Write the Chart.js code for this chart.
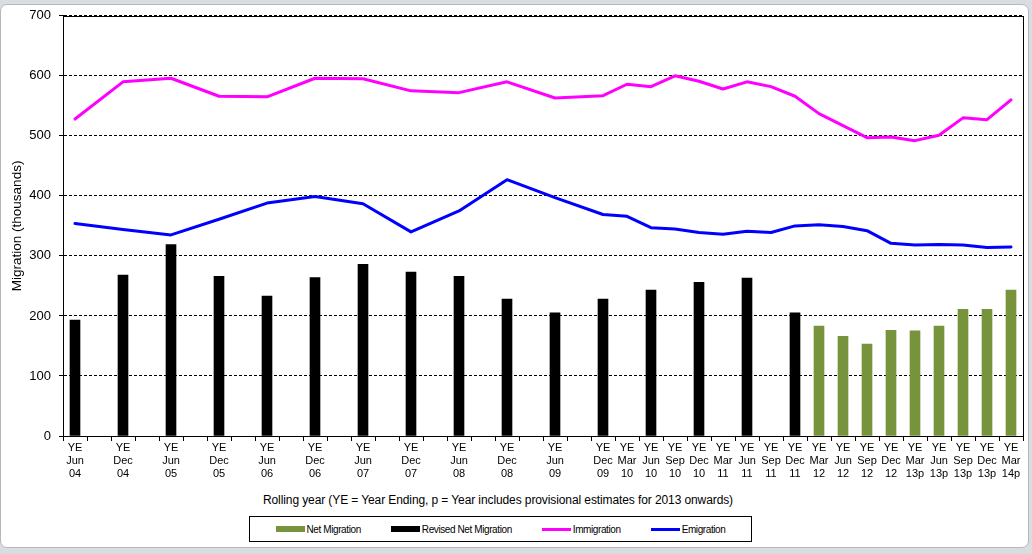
<!DOCTYPE html>
<html lang="en">
  <head>
    <meta charset="UTF-8" />
    <meta name="viewport" content="width=device-width, initial-scale=1.0" />
    <title>Migration</title>
    <style>
      body {
        margin: 0;
        padding: 0;
        background-color: #d9dde2;
        font-family: Arial, "Liberation Sans", sans-serif;
      }

      #frame {
        position: absolute;
        left: 0;
        top: 4px;
        width: 1027px;
        height: 542px;
        background-color: #fff;
        border: 1px solid #b4b8be;
        border-radius: 7px;
      }

      #chart-box {
        position: absolute;
        left: 0;
        top: 0;
        width: 1032px;
        height: 490px;
      }

      #x-title {
        position: absolute;
        left: 248px;
        top: 492px;
        width: 500px;
        line-height: 16px;
        text-align: center;
        font-size: 12px;
        letter-spacing: -0.1px;
        color: #000;
      }

      #legend {
        position: absolute;
        left: 249px;
        top: 516px;
        width: 503px;
        height: 26px;
        box-sizing: border-box;
        border: 1px solid #000;
        display: flex;
        justify-content: center;
        align-items: center;
        gap: 30px;
        font-size: 10px;
        letter-spacing: -0.4px;
        color: #000;
      }

      .item {
        display: flex;
        align-items: center;
      }

      .swatch {
        display: inline-block;
        width: 29px;
        margin-right: 2px;
      }
    </style>
  </head>
  <body>
    <div id="frame"></div>
    <div id="chart-box"><canvas id="migration-chart"></canvas></div>
    <div id="x-title">
      Rolling year (YE = Year Ending, p = Year includes provisional estimates
      for 2013 onwards)
    </div>
    <div id="legend"></div>

    <script src="https://cdn.jsdelivr.net/npm/chart.js"></script>
    <script>
      // quarterly categories, only some of them carry a label
      var periodLabels = [
        "YE Jun 04", "", "YE Dec 04", "", "YE Jun 05", "", "YE Dec 05", "",
        "YE Jun 06", "", "YE Dec 06", "", "YE Jun 07", "", "YE Dec 07", "",
        "YE Jun 08", "", "YE Dec 08", "", "YE Jun 09", "", "YE Dec 09",
        "YE Mar 10", "YE Jun 10", "YE Sep 10", "YE Dec 10", "YE Mar 11",
        "YE Jun 11", "YE Sep 11", "YE Dec 11", "YE Mar 12", "YE Jun 12",
        "YE Sep 12", "YE Dec 12", "YE Mar 13p", "YE Jun 13p", "YE Sep 13p",
        "YE Dec 13p", "YE Mar 14p"
      ];

      var netMigration = [
        null, null, null, null, null, null, null, null, null, null,
        null, null, null, null, null, null, null, null, null, null,
        null, null, null, null, null, null, null, null, null, null,
        null, 183, 166, 153, 176, 175, 183, 211, 211, 243
      ];

      var revisedNetMigration = [
        193, null, 268, null, 319, null, 266, null, 233, null,
        264, null, 286, null, 273, null, 266, null, 228, null,
        205, null, 228, null, 243, null, 256, null, 263, null,
        205, null, null, null, null, null, null, null, null, null
      ];

      var immigration = [
        528, null, 590, null, 596, null, 566, null, 565, null,
        596, null, 595, null, 575, null, 572, null, 590, null,
        563, null, 567, 586, 582, 600, 591, 578, 590, 582,
        566, 537, 517, 497, 498, 492, 501, 530, 527, 560
      ];

      var emigration = [
        354, null, 344, null, 335, null, 361, null, 388, null,
        399, null, 387, null, 340, null, 375, null, 427, null,
        397, null, 369, 366, 347, 345, 339, 336, 341, 339,
        350, 352, 349, 342, 321, 318, 319, 318, 314, 315
      ];

      var fontFamily = 'Arial, "Liberation Sans", sans-serif';

      // box around the plot area
      var plotFrame = {
        id: "plotFrame",
        afterDatasetsDraw: function (chart) {
          var ctx = chart.ctx;
          var a = chart.chartArea;
          ctx.save();
          ctx.strokeStyle = "#000";
          ctx.lineWidth = 1;
          ctx.strokeRect(
            Math.round(a.left) + 0.5,
            Math.round(a.top) + 0.5,
            Math.round(a.right - a.left),
            Math.round(a.bottom - a.top)
          );
          ctx.restore();
        },
      };

      var ctx = document.getElementById("migration-chart").getContext("2d");
      var migrationChart = new Chart(ctx, {
        type: "bar",
        data: {
          labels: periodLabels.map(function (l) {
            return l === "" ? "" : l.split(" ");
          }),
          datasets: [
            {
              type: "bar",
              label: "Net Migration",
              data: netMigration,
              backgroundColor: "#77933c",
              barThickness: 10,
              grouped: false,
              order: 2,
            },
            {
              type: "bar",
              label: "Revised Net Migration",
              data: revisedNetMigration,
              backgroundColor: "#000000",
              barThickness: 10,
              grouped: false,
              order: 2,
            },
            {
              type: "line",
              label: "Immigration",
              data: immigration,
              borderColor: "#ff00ff",
              backgroundColor: "#ff00ff",
              borderWidth: 3,
              pointRadius: 0,
              spanGaps: true,
              borderJoinStyle: "round",
              borderCapStyle: "round",
              order: 1,
            },
            {
              type: "line",
              label: "Emigration",
              data: emigration,
              borderColor: "#0000ff",
              backgroundColor: "#0000ff",
              borderWidth: 3,
              pointRadius: 0,
              spanGaps: true,
              borderJoinStyle: "round",
              borderCapStyle: "round",
              order: 1,
            },
          ],
        },
        options: {
          responsive: true,
          maintainAspectRatio: false,
          animation: false,
          layout: {
            padding: { left: 0, right: 9, top: 15, bottom: 4 },
          },
          plugins: {
            legend: { display: false },
            tooltip: { enabled: false },
          },
          scales: {
            x: {
              offset: true,
              grid: {
                offset: true,
                drawOnChartArea: false,
                drawTicks: true,
                tickLength: 5,
                color: "#000",
              },
              border: { display: true, color: "#000", width: 1 },
              ticks: {
                autoSkip: false,
                maxRotation: 0,
                minRotation: 0,
                padding: 0,
                color: "#000",
                font: { family: fontFamily, size: 11, lineHeight: 1.2 },
              },
              afterFit: function (scale) {
                scale.height = 50;
              },
            },
            y: {
              min: 0,
              max: 700,
              ticks: {
                stepSize: 100,
                padding: 8,
                color: "#000",
                font: { family: fontFamily, size: 13 },
              },
              grid: {
                color: "#000",
                lineWidth: 1,
                tickLength: 4,
                tickColor: "#000",
              },
              border: { display: true, color: "#000", width: 1, dash: [3, 2] },
              title: {
                display: true,
                text: "Migration (thousands)",
                color: "#000",
                font: { family: fontFamily, size: 13.5 },
                padding: { top: 9, bottom: 0 },
              },
              afterFit: function (scale) {
                scale.width = 63;
              },
            },
          },
        },
        plugins: [plotFrame],
      });

      // legend built from the chart's datasets
      var legendBox = document.getElementById("legend");
      migrationChart.data.datasets.forEach(function (ds) {
        var item = document.createElement("span");
        item.className = "item";
        var sw = document.createElement("span");
        sw.className = "swatch";
        if (ds.type === "bar") {
          sw.style.height = "6px";
          sw.style.backgroundColor = ds.backgroundColor;
        } else {
          sw.style.height = "3px";
          sw.style.backgroundColor = ds.borderColor;
        }
        item.appendChild(sw);
        item.appendChild(document.createTextNode(ds.label));
        legendBox.appendChild(item);
      });
    </script>
  </body>
</html>
